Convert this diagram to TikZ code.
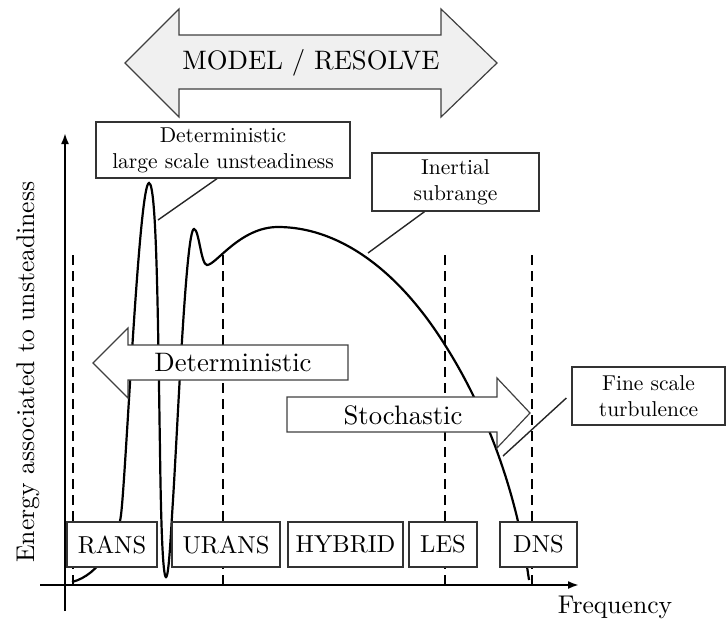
\documentclass[tikz,border=0pt]{standalone}
\usepackage{fontspec}
\setmainfont{lmroman10-regular}[Extension=.otf]
\usetikzlibrary{arrows.meta}
\begin{document}
\begin{tikzpicture}[x=1pt, y=-1pt, every node/.style={inner sep=0pt},
  note/.style={draw=black!80, line width=1.3pt, fill=white, align=center, font=\fontsize{21.5}{26}\selectfont},
  method/.style={draw=black!80, line width=1.3pt, fill=white, minimum height=45pt, font=\fontsize{24.5}{29}\selectfont},
  bigarrow/.style={draw=black!75, line width=1.2pt, fill=white},
  bigtext/.style={font=\fontsize{26.7}{31}\selectfont},
  cut/.style={black, line width=2pt, dash pattern=on 10pt off 6pt},
  leader/.style={black!85, line width=1.4pt},
  axis/.style={line width=2pt, -{Latex[length=11pt,width=8pt]}}]
\useasboundingbox (0,0) rectangle (727,624);
% cuts between the methods
\foreach \x in {73,223,445,532}
  \draw[cut] (\x,255) -- (\x,585);
% energy spectrum
\draw[line width=2.2pt] (72,582) .. controls (100,575) and (118,540) .. (121,515)
  .. controls (126,475) and (139,183) .. (149,183)
  .. controls (157,183) and (158,330) .. (160,450)
  .. controls (161,530) and (163,577) .. (166,577)
  .. controls (169,577) and (171,530) .. (173,500)
  .. controls (178,420) and (186,229) .. (194,229)
  .. controls (199,229) and (201,265) .. (207,265)
  .. controls (216,265) and (240,227) .. (278,227)
  .. controls (335,227) and (395,265) .. (445,345)
  .. controls (480,400) and (515,480) .. (529,580);
\coordinate (c1) at (158,220);
\coordinate (c2) at (368,253);
\coordinate (c3) at (503,456);
% axes
\coordinate (xs) at (40,585);
\coordinate (xe) at (579,585);
\coordinate (ys) at (65,611);
\coordinate (ye) at (65,133);
\draw[axis] (xs) -- (xe);
\draw[axis] (ys) -- (ye);
\node[font=\fontsize{25.6}{30}\selectfont] (freq) at (615,607) {Frequency};
\node[rotate=90, font=\fontsize{25.6}{30}\selectfont] (energy) at (28,372) {Energy associated to unsteadiness};
% notes
\node[note, minimum width=254pt, minimum height=56pt] (lsu) at (223,150) {Deterministic\\large scale unsteadiness};
\node[note, minimum width=167pt, minimum height=58pt] (inertial) at (455.5,182) {Inertial\\subrange};
\node[note, minimum width=153pt, minimum height=58pt] (fine) at (648.5,396) {Fine scale\\turbulence};
\draw[leader] ([xshift=-6pt]lsu.south) -- (c1);
\draw[leader] ([xshift=-31pt]inertial.south) -- (c2);
\draw[leader] ([xshift=-5pt,yshift=-2pt]fine.west) -- (c3);
% methods
\node[method, minimum width=90pt] (rans) at (112,544.5) {RANS};
\node[method, minimum width=108pt] (urans) at (226,544.5) {URANS};
\node[method, minimum width=115pt] (hybrid) at (345.5,544.5) {HYBRID};
\node[method, minimum width=68pt] (les) at (443,544.5) {LES};
\node[method, minimum width=77pt] (dns) at (538.5,544.5) {DNS};
% big arrows
\draw[bigarrow] (93,363) -- (128,328) -- (128,345) -- (348,345) -- (348,380)
  -- (128,380) -- (128,398) -- cycle;
\node[bigtext] (det) at (233,363) {Deterministic};
\draw[bigarrow] (530,413) -- (497,378) -- (497,397) -- (287,397) -- (287,432)
  -- (497,432) -- (497,448) -- cycle;
\node[bigtext] (sto) at (403,415) {Stochastic};
\draw[bigarrow, fill=black!6] (125,63) -- (179,9) -- (179,35) -- (441,35) -- (441,9)
  -- (497,63) -- (441,117) -- (441,89) -- (179,89) -- (179,117) -- cycle;
\node[bigtext] (model) at (311,63) {MODEL / RESOLVE};
\end{tikzpicture}
\end{document}
